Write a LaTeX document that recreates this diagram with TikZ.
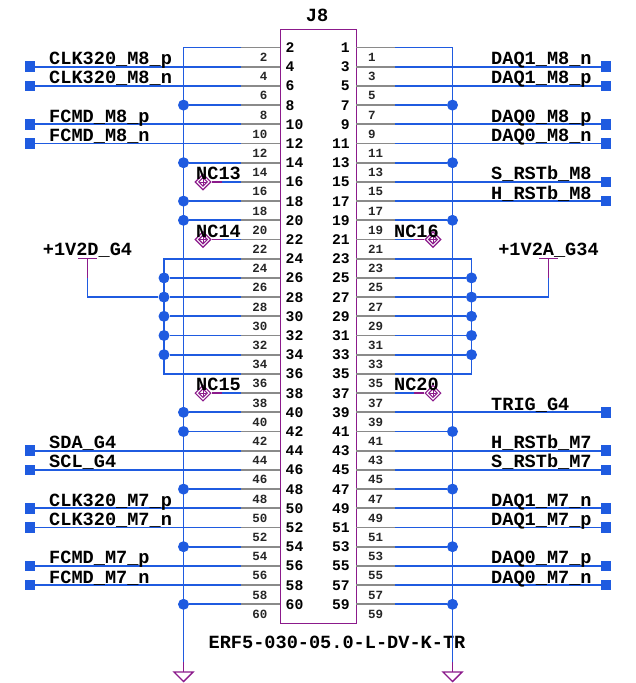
\documentclass[tikz,border=0pt]{standalone}
\usepackage{fontspec}
\setmainfont{Liberation Mono}
\usetikzlibrary{shapes.geometric}
\definecolor{wireblue}{HTML}{1F5BE0}
\definecolor{sympurple}{HTML}{8B1A8B}
\definecolor{stubgray}{HTML}{8A8A8A}
\tikzset{
  wire/.style={draw=wireblue,line width=1.8pt},
  stub/.style={draw=stubgray,line width=1.8pt},
  sym/.style={draw=sympurple,line width=1.4pt},
  junction/.style={circle,fill=wireblue,inner sep=0pt,minimum size=11pt},
  port/.style={rectangle,fill=wireblue,inner sep=0pt,minimum size=10.5pt},
  netlabel/.style={inner sep=0pt,font=\fontsize{18.6}{20}\selectfont\bfseries},
  pinbig/.style={inner sep=0pt,font=\fontsize{14.7}{16}\selectfont\bfseries},
  pinsmall/.style={inner sep=0pt,font=\fontsize{12.5}{14}\selectfont\bfseries,text=black!85},
  ncmark/.style={diamond,draw=sympurple,line width=1.2pt,inner sep=0pt,minimum size=16pt},
  ncinner/.style={diamond,draw=sympurple,line width=1.1pt,inner sep=0pt,minimum size=9pt},
}
\begin{document}
\begin{tikzpicture}[x=1pt,y=-1pt]
\useasboundingbox (0,0) rectangle (636,683);
% connector body
\node[sym,rectangle,minimum width=76.5pt,minimum height=594.5pt,inner sep=0pt,anchor=north west] (body) at (279.5,28.5) {};
\node[netlabel,anchor=base] (refdes) at (317,21) {J8};
\node[netlabel,anchor=base] (partno) at (337,648) {ERF5-030-05.0-L-DV-K-TR};
% pins
\foreach \n in {2,4,...,60}{
  \pgfmathsetmacro{\yy}{47.5+19.2*(\n-2)/2}
  \coordinate (L\n) at (279.5,\yy);
  \coordinate (LS\n) at (241,\yy);
  \draw[stub] (L\n) -- (LS\n);
  \node[pinbig,anchor=base west] (LN\n) at (285.5,\yy+5) {\n};
  \node[pinsmall,anchor=base east] (LM\n) at (267.5,\yy+14) {\n};
}
\foreach \n in {1,3,...,59}{
  \pgfmathsetmacro{\yy}{47.5+19.2*(\n-1)/2}
  \coordinate (R\n) at (356,\yy);
  \coordinate (RS\n) at (395,\yy);
  \draw[stub] (R\n) -- (RS\n);
  \node[pinbig,anchor=base east] (RN\n) at (350,\yy+5) {\n};
  \node[pinsmall,anchor=base west] (RM\n) at (368,\yy+14) {\n};
}
% ground buses
\coordinate (gndLw) at (183.5,662);
\coordinate (gndRw) at (452.5,662);
\coordinate (gndL) at (183.5,672);
\coordinate (gndR) at (452.5,672);
\draw[wire] (LS2) -| (gndLw);
\draw[wire] (RS1) -| (gndRw);
\draw[sym] (gndLw) -- (gndL);
\draw[sym] (gndRw) -- (gndR);
\draw[sym] ([xshift=-9.5pt]gndL) -- ([xshift=9.5pt]gndL) -- ([yshift=-9.5pt]gndL) -- cycle;
\draw[sym] ([xshift=-9.5pt]gndR) -- ([xshift=9.5pt]gndR) -- ([yshift=-9.5pt]gndR) -- cycle;
% ground junctions
\foreach \n in {8,14,18,20,40,42,48,54,60}{
  \node[junction] (JL\n) at (gndL |- L\n) {};
  \draw[wire] (LS\n) -- (JL\n);
}
\foreach \n in {7,13,19,41,47,53,59}{
  \node[junction] (JR\n) at (gndR |- R\n) {};
  \draw[wire] (RS\n) -- (JR\n);
}
% signals left
\coordinate (xpl) at (30,0);
\coordinate (xtl) at (49,0);
\foreach \n/\t in {4/CLK320\_M8\_p,6/CLK320\_M8\_n,10/FCMD\_M8\_p,12/FCMD\_M8\_n,44/SDA\_G4,46/SCL\_G4,50/CLK320\_M7\_p,52/CLK320\_M7\_n,56/FCMD\_M7\_p,58/FCMD\_M7\_n}{
  \node[port] (PL\n) at (xpl |- L\n) {};
  \draw[wire] (LS\n) -- (PL\n);
  \node[netlabel,anchor=base west] (TL\n) at ([yshift=2pt]xtl |- L\n) {\t};
}
% signals right
\coordinate (xpr) at (606,0);
\coordinate (xtr) at (491,0);
\foreach \n/\t in {3/DAQ1\_M8\_n,5/DAQ1\_M8\_p,9/DAQ0\_M8\_p,11/DAQ0\_M8\_n,15/S\_RSTb\_M8,17/H\_RSTb\_M8,39/TRIG\_G4,43/H\_RSTb\_M7,45/S\_RSTb\_M7,49/DAQ1\_M7\_n,51/DAQ1\_M7\_p,55/DAQ0\_M7\_p,57/DAQ0\_M7\_n}{
  \node[port] (PR\n) at (xpr |- R\n) {};
  \draw[wire] (RS\n) -- (PR\n);
  \node[netlabel,anchor=base west] (TR\n) at ([yshift=2pt]xtr |- R\n) {\t};
}
% power groups
\coordinate (xil) at (164,0);
\coordinate (xir) at (471.5,0);
\draw[wire] (LS24) -| (xil |- LS36) -- (LS36);
\draw[wire] (RS23) -| (xir |- RS35) -- (RS35);
\foreach \n in {26,28,30,32,34}{
  \node[junction] (IL\n) at (xil |- L\n) {};
  \draw[wire] (LS\n) -- (IL\n);
}
\foreach \n in {25,27,29,31,33}{
  \node[junction] (IR\n) at (xir |- R\n) {};
  \draw[wire] (RS\n) -- (IR\n);
}
\node[netlabel,anchor=base] (PWL) at (87.5,255) {+1V2D\_G4};
\node[netlabel,anchor=base] (PWR) at (548.5,255) {+1V2A\_G34};
\coordinate (TPL) at (87.5,258.5);
\coordinate (TPR) at (548.5,258.5);
\coordinate (MPL) at (87.5,278);
\coordinate (MPR) at (548.5,278);
\draw[sym] ([xshift=-9.5pt]TPL) -- ([xshift=9.5pt]TPL);
\draw[sym] ([xshift=-9.5pt]TPR) -- ([xshift=9.5pt]TPR);
\draw[sym] (TPL) -- (MPL);
\draw[sym] (TPR) -- (MPR);
\draw[wire] (MPL) |- (IL28);
\draw[wire] (MPR) |- (IR27);
% no-connects
\coordinate (xncl) at (203,0);
\coordinate (xncr) at (433,0);
\foreach \n/\t in {16/NC13,22/NC14,38/NC15}{
  \node[ncmark] (NL\n) at (xncl |- L\n) {};
  \node[ncinner] (NLI\n) at (NL\n) {};
  \draw[sym,line width=.8pt] ([xshift=-3pt]NL\n.center) -- ([xshift=3pt]NL\n.center);
  \draw[sym,line width=.8pt] ([yshift=-3pt]NL\n.center) -- ([yshift=3pt]NL\n.center);
  \draw[wire] (LS\n) -- ([xshift=19pt]NL\n.center);
  \draw[sym] ([xshift=19pt]NL\n.center) -- (NL\n.east);
  \node[netlabel,anchor=base west] (NT\n) at ([xshift=-7pt,yshift=2.5pt]NL\n.center) {\t};
}
\foreach \n/\t in {21/NC16,37/NC20}{
  \node[ncmark] (NR\n) at (xncr |- R\n) {};
  \node[ncinner] (NRI\n) at (NR\n) {};
  \draw[sym,line width=.8pt] ([xshift=-3pt]NR\n.center) -- ([xshift=3pt]NR\n.center);
  \draw[sym,line width=.8pt] ([yshift=-3pt]NR\n.center) -- ([yshift=3pt]NR\n.center);
  \draw[wire] (RS\n) -- ([xshift=-19pt]NR\n.center);
  \draw[sym] ([xshift=-19pt]NR\n.center) -- (NR\n.west);
  \node[netlabel,anchor=base east] (NS\n) at ([xshift=6pt,yshift=2.5pt]NR\n.center) {\t};
}
\end{tikzpicture}
\end{document}
